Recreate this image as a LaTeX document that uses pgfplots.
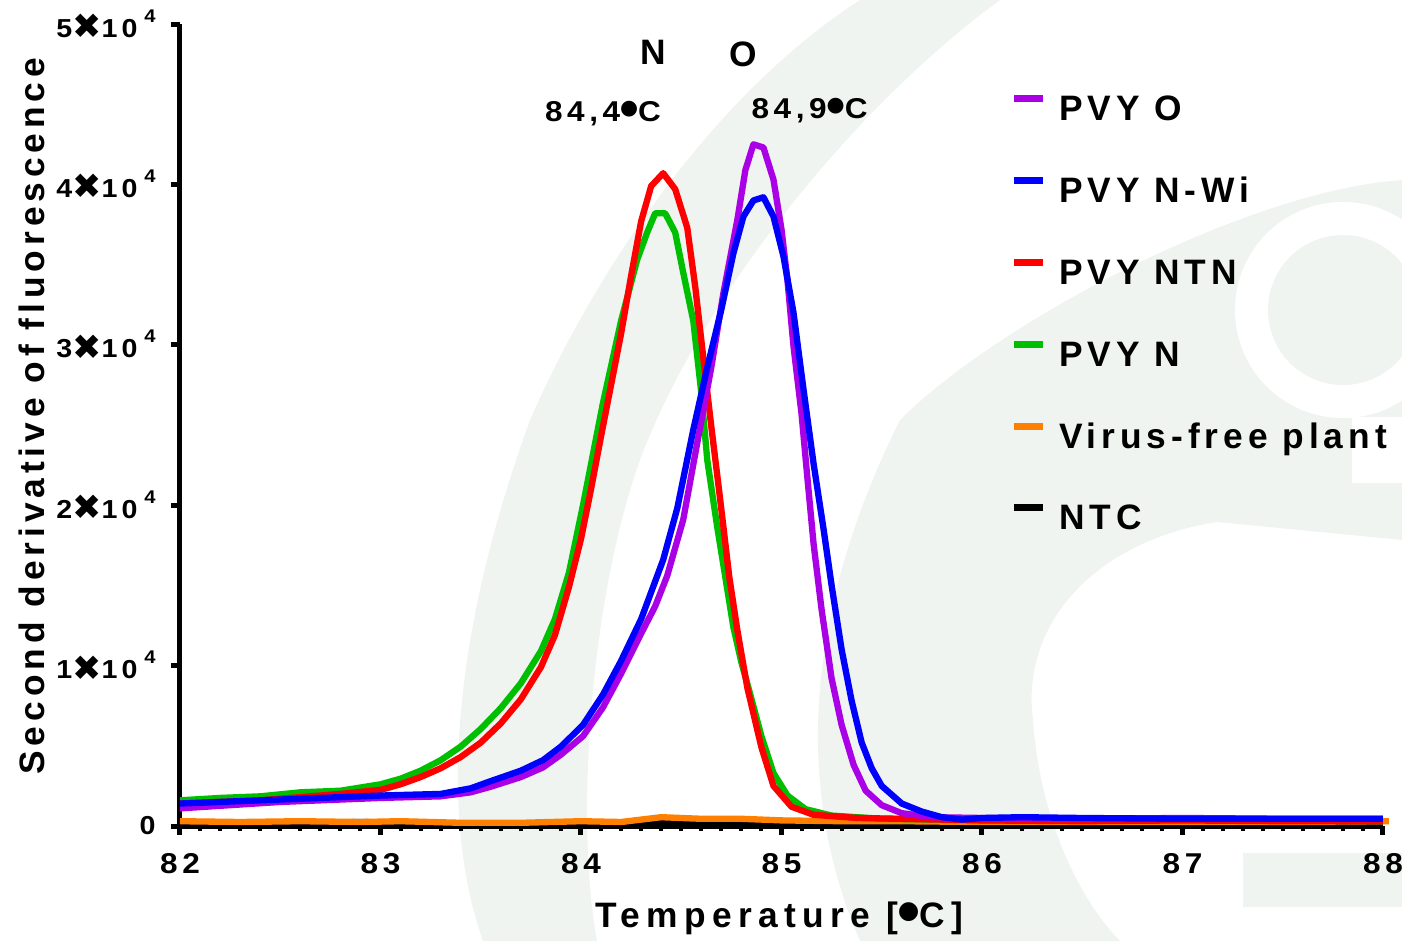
\documentclass[border=0pt]{standalone}
\usepackage{pgfplots}
\pgfplotsset{compat=1.18}
\usepackage{fontspec}
\setmainfont{Liberation Sans}[LetterSpace=14]
\newfontfamily\tickfont{Liberation Sans}[LetterSpace=16, FakeStretch=1.1]
\newfontfamily\sym{DejaVu Sans}

\definecolor{cO}{RGB}{170,0,230}
\definecolor{cNWi}{RGB}{0,0,255}
\definecolor{cNTN}{RGB}{255,0,0}
\definecolor{cN}{RGB}{0,190,0}
\definecolor{cVF}{RGB}{255,128,0}
\definecolor{wm}{RGB}{240,244,241}

\newcommand{\fbig}{\fontsize{10.6}{12}\selectfont}
\newcommand{\fsmall}{\tickfont\fontsize{8.6}{10}\selectfont}
% the degree sign shows as a raised dot in the original
\newcommand{\dg}{\raisebox{0.45ex}{\sym\fontsize{6.2}{6}\selectfont ●}}
\newcommand{\dgL}{\raisebox{0.5ex}{\sym\fontsize{7.4}{7}\selectfont ●}}
\newcommand{\yl}[1]{{\tickfont\fontsize{7.8}{9}\selectfont #1\raisebox{-0.1ex}{\sym\fontsize{10.5}{10}\selectfont ✖}10\hspace{2pt}\raisebox{1.1ex}{\fontsize{5.5}{6}\selectfont 4}}}

\begin{document}
\bfseries
\begin{tikzpicture}
\useasboundingbox (0,0) rectangle (420.6pt,282.3pt);

% faint logo in the background (pixel coordinates)
\begin{scope}[x=0.3pt, y=-0.3pt, yshift=282.3pt]
  \fill[wm] (483,941) .. controls (440,820) and (450,640) .. (530,420)
    .. controls (600,260) and (720,90) .. (860,0) -- (1000,0)
    .. controls (850,110) and (700,300) .. (640,460)
    .. controls (590,600) and (575,820) .. (597,941) -- cycle;
  \fill[wm] (860,941) .. controls (790,780) and (810,600) .. (900,420)
    .. controls (1000,320) and (1250,190) .. (1402,180) -- (1402,540)
    -- (1217,522) .. controls (1100,540) and (1020,620) .. (1033,720)
    .. controls (1040,820) and (1080,900) .. (1120,941) -- cycle;
  \fill[white] (1343,310) circle (108);
  \fill[wm] (1343,310) circle (75);
  \fill[white] (1352,417) rectangle (1402,483);
  \fill[wm] (1243,853) rectangle (1402,907);
\end{scope}

\begin{axis}[
    at={(54pt,34.5pt)}, anchor=south west,
    scale only axis, width=360.9pt, height=240.6pt,
    xmin=82, xmax=88, ymin=0, ymax=50000,
    axis lines*=left,
    axis line style={line width=1.5pt},
    xtick={82,83,84,85,86,87,88},
    minor x tick num=9,
    ytick={0,10000,20000,30000,40000,50000},
    yticklabels={{\tickfont\fontsize{7.8}{9}\selectfont 0},\yl{1},\yl{2},\yl{3},\yl{4},\yl{5}},
    scaled y ticks=false,
    tick align=outside,
    major tick length=2.6pt, minor tick length=1.6pt,
    major tick style={line width=1.5pt, black},
    minor tick style={line width=1.2pt, black},
    /pgf/number format/assume math mode=true,
    xticklabel style={font=\fsmall, yshift=-2pt},
    yticklabel style={xshift=-1.2pt},
    xlabel={\addfontfeatures{LetterSpace=18}Temperature [\dgL C]},
    ylabel={Second derivative of fluorescence},
    xlabel style={at={(axis description cs:0.498,-0.115)}, anchor=center, font=\fbig},
    ylabel style={at={(axis description cs:-0.123,0.511)}, anchor=center, font=\fbig},
    clip=false,
    legend cell align=left,
    legend style={at={(axis description cs:0.690,0.912)}, anchor=north west,
        draw=none, fill=none, font=\fbig, inner sep=0pt,
        nodes={text height=7.6pt, text depth=2pt, inner sep=0pt},
        row sep=14.9pt, column sep=3.8pt},
    legend image code/.code={\draw[#1, line width=2.1pt] (0pt,3.8pt) -- (8.6pt,3.8pt);},
    every axis plot/.append style={line width=1.9pt, line join=round},
]
\addlegendimage{cO}\addlegendentry{PVY O}
\addlegendimage{cNWi}\addlegendentry{PVY N-Wi}
\addlegendimage{cNTN}\addlegendentry{PVY NTN}
\addlegendimage{cN}\addlegendentry{PVY N}
\addlegendimage{cVF}\addlegendentry{Virus-free plant}
\addlegendimage{black}\addlegendentry{NTC}

% NTC
\addplot[black, forget plot] coordinates {
(82.0,200) (82.5,150) (82.9,250) (83.3,150) (83.8,150) (84.2,200)
(84.5,200) (85.0,150) (85.5,150) (86.0,150) (87.0,150) (88.0,150)};
% Virus-free plant
\addplot[cVF, forget plot] coordinates {
(82.0,300) (82.3,250) (82.6,300) (82.9,250) (83.1,300) (83.4,200)
(83.7,200) (84.0,300) (84.2,250) (84.4,550) (84.6,450) (84.8,450)
(85.0,350) (85.3,300) (85.6,300) (86.0,250) (86.5,250) (87.0,250)
(87.5,250) (88.0,300) (88.03,300)};
% PVY N
\addplot[cN, forget plot] coordinates {
(82.0,1600) (82.2,1750) (82.4,1850) (82.6,2100) (82.8,2200) (83.0,2600)
(83.1,2950) (83.2,3450) (83.3,4100) (83.4,4950) (83.5,6050) (83.6,7350)
(83.7,8900) (83.8,10900) (83.87,12900) (83.94,15800) (84.01,20000)
(84.11,26400) (84.2,31500) (84.28,35300) (84.33,37000) (84.37,38200)
(84.42,38200) (84.47,37000) (84.51,34500) (84.56,31500) (84.6,27000)
(84.63,22800) (84.68,18600) (84.72,15500) (84.76,12400) (84.8,10200)
(84.84,8400) (84.9,5600) (84.96,3300) (85.03,1900) (85.12,1050)
(85.25,650) (85.5,450) (85.8,400) (86.0,350) (86.5,350) (87.0,400)
(87.5,350) (88.0,300)};
% PVY NTN
\addplot[cNTN, forget plot] coordinates {
(82.0,1400) (82.2,1500) (82.4,1600) (82.6,1800) (82.8,2000) (83.0,2250)
(83.1,2600) (83.2,3050) (83.3,3600) (83.4,4300) (83.5,5200) (83.6,6400)
(83.7,7900) (83.8,9900) (83.87,11900) (83.94,14900)
(84.0,17900) (84.05,21000) (84.1,24300) (84.15,27500) (84.2,30700)
(84.25,34300) (84.3,37700) (84.35,39900) (84.41,40700) (84.47,39700)
(84.53,37300) (84.57,33600) (84.61,29200) (84.65,24900) (84.69,20800)
(84.74,15500) (84.78,12200) (84.83,8600) (84.9,4900) (84.96,2500)
(85.05,1200) (85.16,700) (85.38,500) (85.8,400) (86.0,350) (86.5,300)
(87.0,350) (87.5,300) (88.0,300)};
% PVY O
\addplot[cO, forget plot] coordinates {
(82.0,1100) (82.5,1500) (83.0,1750) (83.3,1850) (83.45,2100) (83.55,2450)
(83.7,3050) (83.81,3650) (83.9,4450) (84.01,5600) (84.11,7400)
(84.2,9500) (84.3,12000) (84.37,13700) (84.43,15600) (84.51,19100)
(84.58,23900) (84.65,28600) (84.71,33200) (84.78,37800) (84.82,40900)
(84.86,42500) (84.91,42300) (84.96,40300) (85.0,37200) (85.03,34000)
(85.06,29900) (85.1,25700) (85.13,21600) (85.16,17600) (85.2,13500)
(85.25,9200) (85.3,6300) (85.36,3800) (85.42,2200) (85.5,1300)
(85.6,800) (85.75,550) (86.0,500) (86.5,450) (87.0,500) (87.5,450)
(88.0,450)};
% PVY N-Wi
\addplot[cNWi, forget plot] coordinates {
(82.0,1400) (82.3,1550) (82.6,1700) (83.0,1900) (83.3,2000) (83.45,2350)
(83.55,2800) (83.7,3450) (83.81,4100) (83.9,4950) (84.01,6300)
(84.11,8200) (84.2,10300) (84.3,12900) (84.41,16600) (84.48,19800)
(84.56,24700) (84.63,28600) (84.7,32200) (84.76,35700) (84.81,38000)
(84.86,39000) (84.91,39200) (84.96,38000) (85.01,35500) (85.06,32000)
(85.11,27200) (85.16,22600) (85.21,18500) (85.25,15000) (85.3,11000)
(85.35,7800) (85.4,5200) (85.45,3600) (85.5,2500) (85.6,1400)
(85.7,900) (85.8,550) (85.9,400) (86.0,500) (86.2,550) (86.5,500)
(87.0,450) (87.5,450) (88.0,450)};

\node[font=\fbig] at (axis cs:84.36,48250) {N};
\node[font=\fbig] at (axis cs:84.81,48100) {O};
\node[font=\fsmall] at (axis cs:84.11,44400) {84,4\dg C};
\node[font=\fsmall] at (axis cs:85.14,44600) {84,9\dg C};
\end{axis}
\end{tikzpicture}
\end{document}
